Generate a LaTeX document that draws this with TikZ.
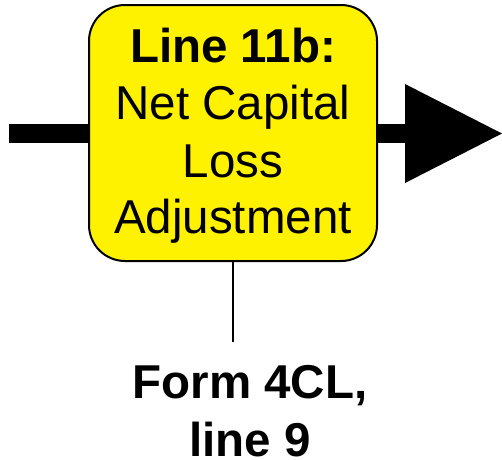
\documentclass[tikz,border=0pt]{standalone}
\usepackage{fontspec}
\setmainfont{Liberation Sans}
\usetikzlibrary{arrows.meta}
\begin{document}
\begin{tikzpicture}[x=1pt,y=-1pt,
  boxstyle/.style={draw=black, line width=2pt, fill=yellow, rounded corners=36pt,
    minimum width=288pt, minimum height=256pt, inner sep=0pt},
  txt/.style={anchor=base, inner sep=0pt, font=\fontsize{47.5}{57}\selectfont},
  btxt/.style={anchor=base, inner sep=0pt, font=\fontsize{47.5}{57}\selectfont\bfseries},
  bar/.style={line width=19pt},
  thinline/.style={line width=1.6pt}]
\useasboundingbox (0,0) rectangle (502,459);
\node[boxstyle] (box) at (233,133) {};
\node[btxt] (t1) at (233,62) {Line 11b:};
\node[txt] (t2) at (233,119) {Net Capital};
\node[txt] (t3) at (233,177) {Loss};
\node[txt] (t4) at (233,233) {Adjustment};
\coordinate (in) at (9,133.5);
\coordinate (out) at (502,133.5);
\coordinate (bot) at (233,342);
\draw[bar] (in) -- (box.west |- in);
\draw[bar, -{Triangle[length=97pt,width=99pt,line width=0pt]}] (box.east |- out) -- (out);
\draw[thinline] (box.south) -- (bot);
\node[btxt] (f1) at (250,398) {Form 4CL,};
\node[btxt] (f2) at (250,456) {line 9};
\end{tikzpicture}
\end{document}
